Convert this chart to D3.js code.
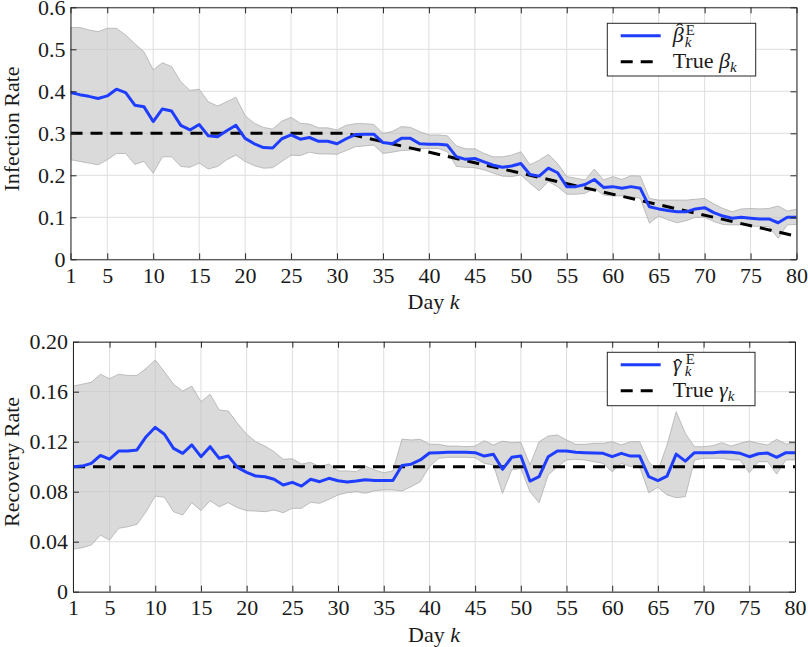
<!DOCTYPE html>
<html><head><meta charset="utf-8">
<script src="https://cdn.jsdelivr.net/npm/d3@7/dist/d3.min.js"></script>
<style>
body{margin:0;background:#fff}
</style>
</head><body><svg id="c" width="808" height="647"></svg>
<script>
// ---------------- data ----------------
const days = d3.range(1, 81);
const xTicks = [1, 5, 10, 15, 20, 25, 30, 35, 40, 45, 50, 55, 60, 65, 70, 75, 80];
const betaYTicks = [0, 0.1, 0.2, 0.3, 0.4, 0.5, 0.6];
const gammaYTicks = [0, 0.04, 0.08, 0.12, 0.16, 0.2];

const betaMean = [0.397,0.392,0.388,0.383,0.389,0.405,0.397,0.367,0.363,0.328,
  0.358,0.353,0.319,0.308,0.321,0.294,0.292,0.306,0.319,0.288,
  0.275,0.266,0.265,0.287,0.296,0.286,0.290,0.281,0.281,0.275,
  0.287,0.297,0.298,0.298,0.278,0.275,0.288,0.288,0.275,0.274,
  0.274,0.272,0.244,0.238,0.240,0.232,0.224,0.219,0.222,0.228,
  0.202,0.198,0.217,0.206,0.173,0.173,0.178,0.190,0.171,0.173,
  0.169,0.173,0.169,0.125,0.120,0.116,0.113,0.113,0.120,0.123,
  0.111,0.103,0.098,0.100,0.098,0.096,0.096,0.087,0.100,0.100];
const betaUpper = [0.552,0.552,0.546,0.542,0.550,0.550,0.534,0.513,0.494,0.451,
  0.468,0.459,0.423,0.402,0.405,0.375,0.365,0.375,0.386,0.342,
  0.324,0.314,0.310,0.329,0.338,0.324,0.322,0.313,0.313,0.308,
  0.319,0.323,0.323,0.321,0.300,0.304,0.316,0.314,0.304,0.296,
  0.296,0.294,0.270,0.263,0.263,0.252,0.244,0.244,0.248,0.256,
  0.225,0.236,0.250,0.228,0.197,0.193,0.189,0.215,0.189,0.197,
  0.190,0.199,0.198,0.145,0.141,0.141,0.141,0.141,0.143,0.145,
  0.132,0.121,0.113,0.120,0.121,0.120,0.121,0.127,0.115,0.119];
const betaLower = [0.237,0.233,0.229,0.225,0.237,0.252,0.252,0.226,0.233,0.205,
  0.244,0.244,0.221,0.219,0.229,0.215,0.221,0.237,0.248,0.233,
  0.223,0.217,0.218,0.233,0.248,0.247,0.255,0.251,0.251,0.250,
  0.259,0.268,0.270,0.272,0.252,0.255,0.259,0.260,0.264,0.264,
  0.264,0.256,0.221,0.219,0.218,0.213,0.205,0.198,0.197,0.201,
  0.181,0.163,0.185,0.173,0.155,0.155,0.157,0.169,0.153,0.151,
  0.151,0.149,0.145,0.086,0.103,0.094,0.087,0.092,0.100,0.100,
  0.090,0.083,0.082,0.082,0.079,0.078,0.078,0.050,0.082,0.083];
const trueBetaDays = [1, 31, 80];
const trueBetaVals = [0.3, 0.3, 0.055];

const gammaMean = [0.1000,0.1005,0.1027,0.1090,0.1060,0.1125,0.1125,0.1134,0.1240,0.1315,
  0.1260,0.1147,0.1107,0.1174,0.1080,0.1160,0.1067,0.1085,0.0995,0.0955,
  0.0925,0.0920,0.0900,0.0854,0.0875,0.0845,0.0900,0.0880,0.0907,0.0888,
  0.0877,0.0885,0.0896,0.0890,0.0890,0.0890,0.1010,0.1020,0.1054,0.1110,
  0.1112,0.1115,0.1115,0.1115,0.1112,0.1085,0.1099,0.0979,0.1075,0.1085,
  0.0885,0.0920,0.1080,0.1126,0.1126,0.1115,0.1112,0.1109,0.1107,0.1080,
  0.1107,0.1085,0.1085,0.0920,0.0889,0.0925,0.1101,0.1045,0.1112,0.1112,
  0.1112,0.1117,0.1115,0.1107,0.1080,0.1104,0.1109,0.1075,0.1112,0.1112];
const gammaUpper = [0.1645,0.1660,0.1675,0.1740,0.1704,0.1740,0.1730,0.1730,0.1787,0.1854,
  0.1760,0.1660,0.1605,0.1645,0.1520,0.1580,0.1454,0.1445,0.1347,0.1260,
  0.1200,0.1165,0.1120,0.1059,0.1064,0.1021,0.1035,0.1000,0.1021,0.0966,
  0.0966,0.0960,0.1005,0.0974,0.0952,0.0966,0.1221,0.1214,0.1219,0.1180,
  0.1179,0.1165,0.1165,0.1160,0.1165,0.1208,0.1174,0.1205,0.1192,0.1195,
  0.1014,0.1200,0.1245,0.1254,0.1214,0.1179,0.1179,0.1187,0.1187,0.1200,
  0.1174,0.1200,0.1200,0.1040,0.0968,0.1174,0.1440,0.1267,0.1160,0.1160,
  0.1168,0.1192,0.1165,0.1187,0.1205,0.1187,0.1174,0.1219,0.1181,0.1187];
const gammaLower = [0.0339,0.0352,0.0373,0.0453,0.0413,0.0507,0.0520,0.0539,0.0640,0.0765,
  0.0755,0.0640,0.0613,0.0712,0.0648,0.0728,0.0680,0.0712,0.0672,0.0648,
  0.0645,0.0640,0.0653,0.0632,0.0667,0.0667,0.0715,0.0707,0.0739,0.0774,
  0.0792,0.0800,0.0787,0.0808,0.0814,0.0814,0.0806,0.0840,0.0880,0.1000,
  0.1067,0.1075,0.1075,0.1075,0.1072,0.1027,0.1014,0.0787,0.0974,0.0987,
  0.0800,0.0712,0.0934,0.1000,0.1054,0.1059,0.1054,0.1040,0.1027,0.0960,
  0.1027,0.1000,0.1000,0.0792,0.0835,0.0774,0.0752,0.0760,0.1054,0.1067,
  0.1067,0.1067,0.1054,0.1054,0.0952,0.1040,0.1040,0.0941,0.1054,0.1054];
const trueGammaDays = [1, 80];
const trueGammaVals = [0.1, 0.1];

// ---------------- drawing ----------------
const svg = d3.select('#c');
const BLUE = '#1f3dff';
const AX = '#262626';
const FS = 22;
const FONT = "'Liberation Serif'";

function txt(sel) {
  return sel.style('font-family', FONT).attr('fill', '#1a1a1a');
}

function panel(o) {
  const x = d3.scaleLinear().domain([1, 80]).range([o.x0, o.x1]);
  const y = d3.scaleLinear().domain([0, o.ymax]).range([o.y0, o.y1]);
  const g = svg.append('g');

  // grid
  g.append('g').selectAll('line').data(xTicks).join('line')
    .attr('x1', d => x(d)).attr('x2', d => x(d)).attr('y1', o.y0).attr('y2', o.y1)
    .attr('stroke', '#dedede').attr('stroke-width', 1);
  g.append('g').selectAll('line').data(o.yTicks).join('line')
    .attr('y1', d => y(d)).attr('y2', d => y(d)).attr('x1', o.x0).attr('x2', o.x1)
    .attr('stroke', '#dedede').attr('stroke-width', 1);

  const clipId = 'clip' + o.id;
  svg.append('clipPath').attr('id', clipId).append('rect')
    .attr('x', o.x0).attr('y', o.y1).attr('width', o.x1 - o.x0).attr('height', o.y0 - o.y1);
  const pg = g.append('g').attr('clip-path', `url(#${clipId})`);

  // band
  const area = d3.area()
    .x((d, i) => x(days[i]))
    .y0((d, i) => y(o.lower[i]))
    .y1((d, i) => y(o.upper[i]));
  pg.append('path').datum(o.upper).attr('d', area)
    .attr('fill', '#c4c4c4').attr('fill-opacity', 0.62)
    .attr('stroke', '#a8a8a8').attr('stroke-width', 0.7);

  // true (dashed)
  const tl = d3.line().x(d => x(d[0])).y(d => y(d[1]));
  pg.append('path').datum(o.trueDays.map((d, i) => [d, o.trueVals[i]])).attr('d', tl)
    .attr('fill', 'none').attr('stroke', '#000').attr('stroke-width', 3)
    .attr('stroke-dasharray', '12,8');

  // estimate
  const ml = d3.line().x((d, i) => x(days[i])).y(d => y(d));
  pg.append('path').datum(o.mean).attr('d', ml)
    .attr('fill', 'none').attr('stroke', BLUE).attr('stroke-width', 3)
    .attr('stroke-linejoin', 'round');

  // axes
  const ab = g.append('g').attr('transform', `translate(0,${o.y0})`)
    .call(d3.axisBottom(x).tickValues(xTicks).tickSize(-6).tickSizeOuter(0).tickPadding(8).tickFormat(d3.format('d')));
  const at = g.append('g').attr('transform', `translate(0,${o.y1})`)
    .call(d3.axisTop(x).tickValues(xTicks).tickSize(-6).tickSizeOuter(0).tickFormat(''));
  const al = g.append('g').attr('transform', `translate(${o.x0},0)`)
    .call(d3.axisLeft(y).tickValues(o.yTicks).tickSize(-6).tickSizeOuter(0).tickPadding(5).tickFormat(o.fmt));
  const ar = g.append('g').attr('transform', `translate(${o.x1},0)`)
    .call(d3.axisRight(y).tickValues(o.yTicks).tickSize(-6).tickSizeOuter(0).tickFormat(''));
  [ab, at, al, ar].forEach(a => {
    a.attr('font-family', null).attr('font-size', null);
    a.selectAll('path.domain').attr('stroke', AX).attr('stroke-width', 1);
    a.selectAll('.tick line').attr('stroke', AX).attr('stroke-width', 1);
    txt(a.selectAll('.tick text')).style('font-size', FS + 'px');
  });

  // x label
  const xl = txt(g.append('text')).attr('x', (o.x0 + o.x1) / 2).attr('y', o.y0 + 50)
    .attr('text-anchor', 'middle').style('font-size', FS + 'px');
  xl.append('tspan').text('Day ');
  xl.append('tspan').style('font-style', 'italic').text('k');

  // y label
  txt(g.append('text')).attr('transform', `translate(${o.ylx},${o.yly}) rotate(-90)`)
    .attr('text-anchor', 'middle').style('font-size', FS + 'px').text(o.ylabel);

  // legend
  const L = o.leg;
  g.append('rect').attr('x', L.x).attr('y', L.y).attr('width', L.w).attr('height', L.h)
    .attr('fill', '#fff').attr('stroke', AX).attr('stroke-width', 1);
  const l1 = L.y + 12.4, l2 = L.y + 38.4;
  g.append('line').attr('x1', L.x + 13.4).attr('x2', L.x + 53.4).attr('y1', l1).attr('y2', l1)
    .attr('stroke', BLUE).attr('stroke-width', 3);
  g.append('line').attr('x1', L.x + 13.4).attr('x2', L.x + 53.4).attr('y1', l2).attr('y2', l2)
    .attr('stroke', '#000').attr('stroke-width', 3).attr('stroke-dasharray', '12,8');
  const tx = L.x + 65.4;
  const b1 = l1 + 6.6, b2 = l2 + 6.6;
  txt(g.append('text')).attr('x', tx).attr('y', b1).style('font-style', 'italic')
    .style('font-size', FS + 'px').text(o.sym);
  txt(g.append('text')).attr('x', tx + o.hatDx).attr('y', b1 + o.hatDy).attr('text-anchor', 'middle')
    .style('font-size', FS + 'px').text('\u02C6');
  txt(g.append('text')).attr('x', tx + 13).attr('y', b1 - 7).style('font-size', '15px').text('E');
  txt(g.append('text')).attr('x', tx + 12).attr('y', b1 + 4.5).style('font-style', 'italic')
    .style('font-size', '15px').text('k');
  const t2 = txt(g.append('text')).attr('x', tx).attr('y', b2).style('font-size', FS + 'px');
  t2.append('tspan').text('True ');
  t2.append('tspan').style('font-style', 'italic').text(o.sym);
  t2.append('tspan').style('font-style', 'italic').attr('dy', 4).style('font-size', '15px').text('k');
}

panel({
  id: 'b', x0: 70.5, x1: 796.5, y0: 259.3, y1: 7.3, ymax: 0.6, yTicks: betaYTicks,
  fmt: d => d === 0 ? '0' : d3.format('.1f')(d),
  mean: betaMean, upper: betaUpper, lower: betaLower,
  trueDays: trueBetaDays, trueVals: trueBetaVals,
  ylabel: 'Infection Rate', ylx: 19, yly: 129,
  leg: { x: 607.3, y: 23.3, w: 148.4, h: 52.7 }, sym: '\u03B2', hatDx: 7, hatDy: -4
});
panel({
  id: 'g', x0: 73, x1: 795, y0: 591.7, y1: 341.7, ymax: 0.2, yTicks: gammaYTicks,
  fmt: d => d === 0 ? '0' : d3.format('.2f')(d),
  mean: gammaMean, upper: gammaUpper, lower: gammaLower,
  trueDays: trueGammaDays, trueVals: trueGammaVals,
  ylabel: 'Recovery Rate', ylx: 18.5, yly: 462,
  leg: { x: 607.3, y: 352.3, w: 147.7, h: 53.4 }, sym: '\u03B3', hatDx: 5, hatDy: 3
});
</script>
</body></html>
